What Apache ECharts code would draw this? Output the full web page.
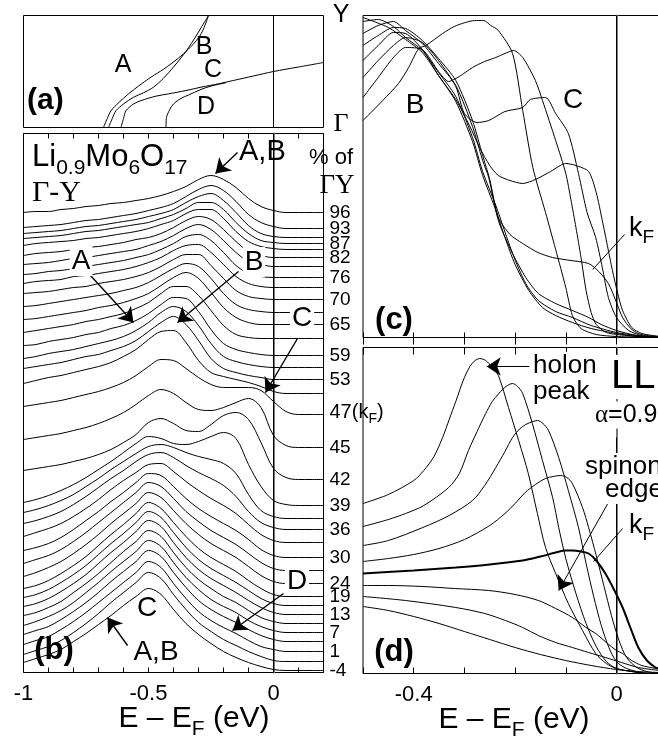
<!DOCTYPE html>
<html>
<head>
<meta charset="utf-8">
<title>Li0.9Mo6O17 ARPES along Γ-Y</title>
<script src="https://cdn.jsdelivr.net/npm/echarts@6/dist/echarts.min.js"></script>
<style>
html,body{margin:0;padding:0;background:#fff;}
#chart{width:658px;height:746px;}
</style>
</head>
<body>
<div id="chart"></div>
<script>
// ---------- (a) band dispersions: [E - EF (eV), position along Γ-Y (0 = Γ, 1 = Y)] ----------
const bandA = [[-0.68,0],[-0.665,0.08],[-0.65,0.15],[-0.62,0.22],[-0.58,0.30],[-0.54,0.37],[-0.49,0.45],[-0.44,0.52],[-0.38,0.62],[-0.34,0.70],[-0.30,0.80],[-0.28,0.88],[-0.26,1.0]];
const bandB = [[-0.66,0],[-0.645,0.08],[-0.63,0.15],[-0.60,0.21],[-0.56,0.27],[-0.52,0.31],[-0.48,0.36],[-0.44,0.44],[-0.40,0.54],[-0.36,0.65],[-0.32,0.78],[-0.29,0.89],[-0.26,1.0]];
const bandC = [[-0.61,0],[-0.60,0.08],[-0.59,0.15],[-0.56,0.21],[-0.53,0.24],[-0.47,0.28],[-0.42,0.30],[-0.35,0.33],[-0.29,0.36],[-0.22,0.39],[-0.16,0.42],[-0.08,0.46],[0,0.50],[0.1,0.54],[0.2,0.58]];
const bandD = [[-0.43,0],[-0.428,0.09],[-0.415,0.16],[-0.40,0.21],[-0.37,0.26],[-0.34,0.29],[-0.29,0.34],[-0.25,0.37],[-0.22,0.385],[-0.19,0.40]];

// ---------- (b) stacked EDCs, offset intensity (arb. units) on a common energy grid ----------
const edcEnergy = [-1.0,-0.95,-0.9,-0.85,-0.8,-0.75,-0.7,-0.65,-0.6,-0.55,-0.5,-0.45,-0.4,-0.35,-0.3,-0.25,-0.2,-0.15,-0.1,-0.05,0,0.05,0.1,0.15,0.2];
const edc01 = [460,461,461,463,464,466,467,469,470,472,474,477,481,486,493,497,493,485,474,466,462,460,460,460,460];
const edc02 = [445,446,447,448,450,452,453,455,457,459,462,465,469,476,483,487,482,471,458,450,446,444,444,444,444];
const edc03 = [439,440,441,442,444,446,447,449,451,453,456,459,463,470,476,479,472,460,447,439,436,435,435,435,435];
const edc04 = [434,435,436,437,439,441,442,444,446,448,450,454,458,464,470,470,463,450,439,432,430,429,429,429,429];
const edc05 = [427,429,430,431,432,434,435,437,439,441,444,448,452,459,463,463,454,441,431,426,424,423,423,423,423];
const edc06 = [417,419,420,421,423,425,426,428,430,433,435,439,445,452,456,453,443,431,421,417,415,415,415,415,415];
const edc07 = [408,409,410,412,414,415,417,419,421,423,427,431,437,444,448,443,432,420,411,408,406,406,406,406,406];
const edc08 = [398,399,401,402,404,406,408,410,412,415,418,423,429,436,438,432,420,407,399,396,395,395,395,395,395];
const edc09 = [389,391,392,393,396,397,399,401,403,406,410,415,422,427,428,420,408,396,389,386,385,385,385,385,385];
const edc10 = [379,380,381,383,385,386,389,391,393,396,400,406,413,418,418,407,394,382,376,374,373,373,373,373,373];
const edc11 = [366,367,369,371,373,375,377,379,382,385,390,397,404,409,406,394,379,368,363,361,360,360,360,360,360];
const edc12 = [353,354,356,358,360,362,365,367,370,374,379,387,395,400,394,380,365,355,350,348,348,348,348,348,348];
const edc13 = [340,342,344,346,348,351,353,356,359,364,370,379,386,386,377,362,347,338,335,334,334,334,334,334,334];
const edc14 = [327,328,331,333,335,338,340,344,347,352,359,368,375,374,361,343,329,323,320,318,317,317,317,317,317];
const edc15 = [314,316,319,321,323,326,329,332,336,342,350,360,366,361,347,329,316,311,308,306,305,305,305,305,305];
const edc16 = [304,306,308,310,313,316,318,322,326,332,341,350,356,348,332,314,304,300,297,295,293,293,293,293,293];
const edc17 = [289,292,295,297,300,303,306,310,316,323,333,341,342,330,312,300,296,293,290,286,281,279,279,279,279];
const edc18 = [266,268,270,272,275,278,281,285,290,297,306,313,312,304,295,288,285,285,285,282,271,261,258,258,258];
const edc19 = [233,235,237,239,242,245,249,254,260,268,277,283,279,270,263,262,265,270,274,265,237,227,225,225,225];
const edc20 = [202,204,206,208,211,214,218,223,230,238,250,254,249,242,241,248,257,260,253,230,204,195,193,193,193];
const edc21 = [170,173,177,182,188,195,203,211,220,229,236,234,229,228,231,236,240,234,208,186,172,168,167,167,167];
const edc22 = [160,163,167,172,178,186,194,203,211,219,226,228,225,220,216,213,209,199,178,162,156,154,154,154,154];
const edc23 = [149,152,156,161,168,176,185,194,202,211,218,220,215,207,200,194,187,176,161,150,145,143,143,143,143];
const edc24 = [136,140,144,149,156,164,173,183,192,200,208,209,201,191,182,174,167,159,148,138,132,130,130,130,130];
const edc25 = [122,125,129,135,143,152,161,171,180,190,199,197,186,174,164,156,149,142,133,123,117,115,115,115,115];
const edc26 = [109,113,117,123,131,140,150,160,170,180,190,186,174,161,151,142,135,128,119,110,104,102,102,102,102];
const edc27 = [96,100,105,111,119,128,138,149,159,169,180,175,162,149,138,129,122,115,106,97,91,89,89,89,89];
const edc28 = [84,87,92,99,107,116,127,138,148,159,170,164,150,136,124,115,108,101,92,84,78,76,76,76,76];
const edc29 = [75,78,83,90,98,107,118,129,139,150,161,155,140,125,113,104,97,90,82,74,69,67,67,67,67];
const edc30 = [66,69,74,81,89,98,109,120,130,141,152,146,130,115,103,94,87,80,72,65,60,58,58,58,58];
const edc31 = [57,60,65,71,80,89,99,110,121,131,142,136,120,105,93,84,76,70,62,55,51,49,49,49,49];
const edc32 = [47,51,56,62,70,80,90,101,111,121,132,126,110,95,83,73,66,60,52,46,42,40,40,40,40];
const edc33 = [38,42,46,53,61,70,80,91,101,111,122,116,100,85,72,63,56,50,43,37,33,31,31,31,31];
const edc34 = [28,32,36,43,51,60,70,80,90,100,111,105,89,74,61,52,45,39,32,26,23,21,21,21,21];
const edc35 = [18,22,26,32,40,49,59,70,80,90,100,94,78,63,50,41,33,27,21,16,12,11,11,11,11];
const edc36 = [10,14,18,23,31,39,48,57,67,76,84,78,63,49,38,29,21,15,10,6,3,2,2,2,2];
// percentage of Γ-Y for each EDC ('' = not annotated)
const edcTags = ['96','93','','87','','82','','76','','70','','65','','59','','53','','47(kF)','45','42','39','','36','','30','','24','19','','13','','7','','1','','-4'];
const bTickValues = [-1, -0.5, 0];
const bTickLabels = ['-1', '-0.5', '0'];

// ---------- (c) EDCs near kF: [E - EF (eV), intensity] ----------
const cC1 = [[-0.5,217],[-0.461,237],[-0.43,254],[-0.41,270],[-0.39,289],[-0.376,292],[-0.343,304],[-0.32,311],[-0.298,315],[-0.28,317],[-0.262,317],[-0.248,312],[-0.233,307],[-0.205,284],[-0.185,227],[-0.165,170],[-0.14,125],[-0.12,88],[-0.1,50],[-0.087,22],[-0.07,9],[-0.04,3],[0,1],[0.085,0]];
const cC2 = [[-0.5,240],[-0.47,260],[-0.44,280],[-0.416,290],[-0.383,288],[-0.351,266],[-0.331,256],[-0.31,261],[-0.284,270],[-0.26,276],[-0.238,280],[-0.22,284],[-0.203,287],[-0.185,280],[-0.16,257],[-0.146,237],[-0.12,197],[-0.1,164],[-0.09,138],[-0.08,110],[-0.07,80],[-0.06,47],[-0.05,25],[-0.04,13],[-0.02,5],[0.02,2],[0.085,0]];
const cC3 = [[-0.5,260],[-0.47,277],[-0.44,292],[-0.416,300],[-0.383,295],[-0.351,277],[-0.317,251],[-0.3,224],[-0.275,215],[-0.252,217],[-0.22,226],[-0.185,230],[-0.17,238],[-0.14,240],[-0.12,224],[-0.095,204],[-0.075,164],[-0.058,125],[-0.041,100],[-0.028,70],[-0.016,40],[0,20],[0.024,7],[0.05,2],[0.085,0]];
const cC4 = [[-0.5,277],[-0.47,292],[-0.44,305],[-0.416,304],[-0.383,288],[-0.351,262],[-0.317,238],[-0.29,212],[-0.27,190],[-0.25,172],[-0.233,162],[-0.21,157],[-0.185,154],[-0.16,158],[-0.13,166],[-0.1,174],[-0.08,172],[-0.055,166],[-0.04,145],[-0.028,117],[-0.018,92],[-0.008,67],[0.002,45],[0.012,27],[0.03,10],[0.05,4],[0.085,1]];
const cKF = [[-0.5,292],[-0.47,302],[-0.44,310],[-0.416,309],[-0.383,297],[-0.351,279],[-0.317,257],[-0.284,217],[-0.264,182],[-0.25,158],[-0.233,120],[-0.21,103],[-0.185,94],[-0.155,85],[-0.126,80],[-0.09,77],[-0.055,74],[-0.035,66],[-0.016,54],[0,35],[0.012,20],[0.028,9],[0.043,4],[0.06,2],[0.085,1]];
const cT1 = [[-0.5,304],[-0.47,312],[-0.44,316],[-0.416,307],[-0.383,294],[-0.351,274],[-0.317,252],[-0.284,211],[-0.264,177],[-0.252,160],[-0.233,117],[-0.205,84],[-0.179,60],[-0.154,44],[-0.12,34],[-0.087,27],[-0.055,20],[-0.03,13],[0,7],[0.04,2],[0.085,0]];
const cT2 = [[-0.5,316],[-0.47,318],[-0.44,311],[-0.416,300],[-0.383,287],[-0.351,265],[-0.317,241],[-0.284,200],[-0.264,166],[-0.238,132],[-0.205,84],[-0.179,54],[-0.154,37],[-0.12,26],[-0.087,20],[-0.05,12],[0,5],[0.04,2],[0.085,0]];
const cT3 = [[-0.5,320],[-0.45,310],[-0.416,298],[-0.383,285],[-0.351,262],[-0.317,236],[-0.284,196],[-0.264,162],[-0.24,130],[-0.22,100],[-0.2,73],[-0.173,47],[-0.146,30],[-0.12,22],[-0.087,15],[-0.05,9],[0,4],[0.04,1],[0.085,0]];

// ---------- (d) Luttinger-liquid spectral functions: [E - EF (eV), intensity] ----------
const ll1 = [[-0.5,170],[-0.45,179],[-0.4,193],[-0.38,203],[-0.36,217],[-0.343,236],[-0.33,254],[-0.317,272],[-0.3,296],[-0.285,310],[-0.27,315],[-0.258,313],[-0.245,306],[-0.233,298],[-0.213,266],[-0.193,233],[-0.174,200],[-0.156,160],[-0.14,126],[-0.12,100],[-0.095,70],[-0.067,43],[-0.041,20],[-0.02,10],[0,5],[0.03,2],[0.06,0],[0.085,0]];
const ll2 = [[-0.5,147],[-0.45,154],[-0.416,160],[-0.38,168],[-0.331,186],[-0.31,200],[-0.292,223],[-0.275,242],[-0.258,260],[-0.245,272],[-0.232,280],[-0.218,287],[-0.205,290],[-0.195,287],[-0.185,280],[-0.166,250],[-0.146,213],[-0.126,176],[-0.114,146],[-0.1,115],[-0.08,80],[-0.06,50],[-0.04,27],[-0.02,12],[0,5],[0.03,2],[0.06,0],[0.085,0]];
const ll3 = [[-0.5,128],[-0.45,133],[-0.382,146],[-0.33,158],[-0.284,173],[-0.26,188],[-0.238,206],[-0.22,222],[-0.205,236],[-0.19,245],[-0.179,249],[-0.165,252],[-0.156,253],[-0.145,250],[-0.134,243],[-0.114,216],[-0.095,183],[-0.075,146],[-0.06,110],[-0.045,77],[-0.03,48],[-0.015,26],[0,12],[0.02,5],[0.05,1],[0.085,0]];
const ll4 = [[-0.5,112],[-0.45,115],[-0.4,119],[-0.35,125],[-0.3,134],[-0.25,148],[-0.22,160],[-0.2,170],[-0.18,181],[-0.16,189],[-0.14,195],[-0.125,197],[-0.11,198],[-0.098,196],[-0.087,190],[-0.067,166],[-0.055,146],[-0.04,118],[-0.025,88],[-0.01,58],[0.005,33],[0.02,16],[0.04,6],[0.06,2],[0.085,0]];
const ll5 = [[-0.5,100],[-0.4,103],[-0.317,106],[-0.25,109],[-0.185,113],[-0.15,117],[-0.12,121],[-0.1,123],[-0.087,123],[-0.07,122],[-0.055,120],[-0.04,113],[-0.022,100],[-0.005,84],[0.012,66],[0.028,45],[0.043,26],[0.06,13],[0.077,6],[0.085,5]];
const ll6 = [[-0.5,88],[-0.45,88],[-0.382,87],[-0.32,85],[-0.252,83],[-0.2,79],[-0.154,73],[-0.12,65],[-0.087,56],[-0.06,46],[-0.041,40],[-0.02,31],[0,23],[0.012,20],[0.03,13],[0.05,8],[0.077,5],[0.085,4]];
const ll7 = [[-0.5,77],[-0.416,73],[-0.317,66],[-0.26,60],[-0.219,53],[-0.185,46],[-0.154,38],[-0.12,31],[-0.087,26],[-0.055,21],[-0.022,16],[0.01,11],[0.043,6],[0.085,3]];
const ll8 = [[-0.5,67],[-0.45,63],[-0.4,57],[-0.35,50],[-0.3,42],[-0.25,34],[-0.2,26],[-0.15,19],[-0.1,13],[-0.05,8],[0,4],[0.04,2],[0.085,1]];
const dTickValues = [-0.4, 0];
const dTickLabels = ['-0.4', '0'];

// ---------- annotation arrows (data coordinates) ----------
const arrowsB = [
  [[-0.144,520],[-0.232,499]],
  [[-0.732,397],[-0.560,350]],
  [[-0.140,401],[-0.384,350]],
  [[0.096,334],[-0.032,280]],
  [[0.040,79],[-0.164,42]],
  [[-0.584,27],[-0.664,55]]
];
const arrowsD = [
  [[-0.172,307],[-0.256,307]],
  [[-0.016,171],[-0.114,83]]
];
const leaderC = [[[0.016,103],[-0.047,68]]];
const leaderD = [[[0.012,145],[-0.045,112]]];

// ---------------------------------------------------------------
const sans = '"Liberation Sans", Arial, Helvetica, sans-serif';
const serif = '"Liberation Serif", "Times New Roman", serif';

function subRich(main, sub, lift) {
  return {
    m: { fontSize: main, fontFamily: sans, fill: '#000', color: '#000', verticalAlign: 'bottom', padding: [0, 0, lift, 0] },
    s: { fontSize: sub, fontFamily: sans, fill: '#000', color: '#000', verticalAlign: 'bottom' },
    g: { fontSize: main, fontFamily: serif, fill: '#000', color: '#000', verticalAlign: 'bottom', padding: [0, 0, lift, 0] }
  };
}

function txt(x, y, text, size, o) {
  o = o || {};
  const style = {
    text: text, fontSize: size, fontFamily: o.family || sans, fontWeight: o.weight || 'normal',
    fill: '#000', align: o.align || 'center', verticalAlign: 'middle'
  };
  if (o.bg) { style.backgroundColor = '#fff'; style.padding = o.pad || [1, 2]; }
  if (o.rich) style.rich = o.rich;
  return { type: 'text', x: x, y: y, z: 100, zlevel: 0, style: style };
}

const black = '#000';
const series = [];

function curve(data, xi, yi, width, extra) {
  return Object.assign({
    type: 'line', xAxisIndex: xi, yAxisIndex: yi, data: data,
    showSymbol: false, symbol: 'none', smooth: 0.3, silent: true,
    lineStyle: { color: black, width: width || 1 }, itemStyle: { color: black },
    animation: false, z: 3
  }, extra || {});
}

// (a)
[bandA, bandB, bandC, bandD].forEach(b => series.push(curve(b, 0, 0, 1)));

// (b)
const edcSets = [edc01,edc02,edc03,edc04,edc05,edc06,edc07,edc08,edc09,edc10,edc11,edc12,edc13,edc14,edc15,edc16,edc17,edc18,
                 edc19,edc20,edc21,edc22,edc23,edc24,edc25,edc26,edc27,edc28,edc29,edc30,edc31,edc32,edc33,edc34,edc35,edc36];
edcSets.forEach((vals, i) => {
  const extra = { smooth: 0.35 };
  const tag = edcTags[i];
  if (tag) {
    extra.endLabel = {
      show: true, distance: 6, color: black, fontFamily: sans, fontSize: 19,
      formatter: tag === '47(kF)' ? '{m|47(k}{s|F}{m|)}' : tag,
      rich: subRich(20, 14, 4)
    };
  }
  series.push(curve(edcEnergy.map((e, j) => [e, vals[j]]), 1, 1, 1, extra));
});

// (c)
[cC1, cC2, cC3, cC4, cKF, cT1, cT2, cT3].forEach(c => series.push(curve(c, 3, 2, 1, { smooth: 0.25 })));

// (d)  — the k = kF curve is drawn heavier
[ll1, ll2, ll3, ll4, ll5, ll6, ll7, ll8].forEach((c, i) => series.push(curve(c, 5, 3, i === 4 ? 2 : 1, { smooth: 0.3 })));

// arrows / leader lines
function arrowSeries(list, xi, yi, head, width) {
  return {
    type: 'lines', coordinateSystem: 'cartesian2d', xAxisIndex: xi, yAxisIndex: yi,
    symbol: head ? ['none', 'arrow'] : ['none', 'none'], symbolSize: [10, 14],
    lineStyle: { color: black, width: width, opacity: 1, curveness: 0 },
    itemStyle: { color: black },
    data: list.map(c => ({ coords: c })), silent: true, animation: false, z: 5
  };
}
series.push(arrowSeries(arrowsB, 1, 1, true, 1.4));
series.push(arrowSeries(arrowsD, 5, 3, true, 1));
series.push(arrowSeries(leaderC, 3, 2, false, 1));
series.push(arrowSeries(leaderD, 5, 3, false, 1));

function tickFmt(values, labels) {
  return function (v) {
    const i = values.findIndex(t => Math.abs(t - v) < 1e-6);
    return i >= 0 ? labels[i] : '';
  };
}

const hidden = { show: false };
function xAx(grid, min, max, pos, tickLen, labels) {
  return {
    type: 'value', gridIndex: grid, min: min, max: max, interval: 0.1, position: pos,
    axisLine: { show: false },
    axisTick: tickLen ? { show: true, inside: true, length: tickLen, lineStyle: { color: black, width: 1 } } : hidden,
    splitLine: hidden,
    axisLabel: labels ? { show: true, color: black, fontFamily: sans, fontSize: 22, margin: 10, formatter: labels } : hidden
  };
}
function yAx(grid, max, gray) {
  return {
    type: 'value', gridIndex: grid, min: 0, max: max,
    axisLine: gray ? { show: true, lineStyle: { color: '#7a7a7a', width: 2 } } : { show: false },
    axisTick: hidden, axisLabel: hidden, splitLine: hidden
  };
}

function gridBox(left, top, width, height) {
  return { left: left, top: top, width: width, height: height, show: true, borderColor: black, borderWidth: 1,
           backgroundColor: 'transparent', containLabel: false, outerBoundsMode: 'none' };
}

const labels = [
  // (a)
  txt(123, 65, 'A', 25), txt(204, 47, 'B', 25), txt(213, 70, 'C', 25), txt(206, 107, 'D', 25),
  txt(27, 101, '(a)', 30, { weight: 'bold', align: 'left' }),
  txt(341, 15, 'Y', 25), txt(341, 124, 'Γ', 26, { family: serif }),
  // (b)
  txt(32, 160, '{m|Li}{s|0.9}{m|Mo}{s|6}{m|O}{s|17}', 31, { align: 'left', rich: subRich(31, 21, 6) }),
  txt(32, 193, 'Γ-Y', 30, { family: serif, align: 'left' }),
  txt(239, 152, 'A,B', 29, { align: 'left' }),
  txt(81, 261, 'A', 28, { bg: true }),
  txt(254, 262, 'B', 28, { bg: true }),
  txt(302, 318, 'C', 28, { bg: true }),
  txt(297, 581, 'D', 28, { bg: true }),
  txt(147, 608, 'C', 28),
  txt(156, 652, 'A,B', 28),
  txt(54, 650, '(b)', 31, { weight: 'bold' }),
  txt(331, 158, '% of', 22),
  txt(337, 186, 'ΓY', 27, { family: serif }),
  txt(194, 722, '{m|E – E}{s|F}{m| (eV)}', 30, { rich: subRich(30, 21, 6) }),
  // (c)
  txt(415, 105, 'B', 28), txt(573, 100, 'C', 28),
  txt(627, 231, '{m|k}{s|F}', 27, { align: 'left', rich: subRich(27, 19, 5), bg: true }),
  txt(394, 320, '(c)', 31, { weight: 'bold' }),
  // (d)
  txt(531, 366, 'holon', 26, { align: 'left', bg: true }),
  txt(531, 392, 'peak', 26, { align: 'left', bg: true }),
  txt(608, 377, 'LL', 40, { align: 'left', bg: true, pad: [2, 3] }),
  txt(593, 415, '{g|α}{m|=0.9}', 25, { align: 'left', bg: true, rich: subRich(25, 16, 0) }),
  txt(583, 467, 'spinon', 26, { align: 'left', bg: true }),
  txt(603, 490, 'edge', 26, { align: 'left', bg: true }),
  txt(627, 528, '{m|k}{s|F}', 27, { align: 'left', rich: subRich(27, 19, 5), bg: true }),
  txt(394, 652, '(d)', 31, { weight: 'bold' }),
  txt(514, 723, '{m|E – E}{s|F}{m| (eV)}', 30, { rich: subRich(30, 21, 6) })
];

const option = {
  animation: false,
  backgroundColor: '#fff',
  grid: [
    gridBox(23.5, 15.5, 300, 112),
    gridBox(23.5, 133.5, 300, 539),
    gridBox(363, 15.5, 297, 322),
    gridBox(363, 347.5, 297, 326)
  ],
  xAxis: [
    xAx(0, -1, 0.2, 'bottom', 0, null),
    xAx(1, -1, 0.2, 'bottom', 5, tickFmt(bTickValues, bTickLabels)),
    xAx(1, -1, 0.2, 'top', 5, null),
    xAx(2, -0.5, 0.0858, 'top', 7, null),
    xAx(2, -0.5, 0.0858, 'bottom', 5, null),
    xAx(3, -0.5, 0.0858, 'bottom', 6, tickFmt(dTickValues, dTickLabels)),
    xAx(3, -0.5, 0.0858, 'top', 7, null)
  ],
  yAxis: [
    yAx(0, 1, false),
    yAx(1, 539, true),
    yAx(2, 322, true),
    yAx(3, 326, true)
  ],
  series: series,
  graphic: labels
};

const chart = echarts.init(document.getElementById('chart'), null, { renderer: 'canvas' });
chart.setOption(option);

// E = EF reference lines, placed through each panel's own axes and snapped to the pixel grid
function fermiLine(xi, yi, yLow, yHigh) {
  const a = chart.convertToPixel({ xAxisIndex: xi, yAxisIndex: yi }, [0, yLow]);
  const b = chart.convertToPixel({ xAxisIndex: xi, yAxisIndex: yi }, [0, yHigh]);
  const x = Math.floor(a[0]) + 0.5;
  return { type: 'line', z: 4, silent: true,
           shape: { x1: x, y1: a[1], x2: x, y2: b[1] },
           style: { stroke: black, lineWidth: 1 } };
}
chart.setOption({
  graphic: labels.concat([
    fermiLine(0, 0, 0, 1),
    fermiLine(2, 1, 0, 539),
    fermiLine(3, 2, 0, 322),
    fermiLine(5, 3, 0, 236)
  ])
});
</script>
</body>
</html>
